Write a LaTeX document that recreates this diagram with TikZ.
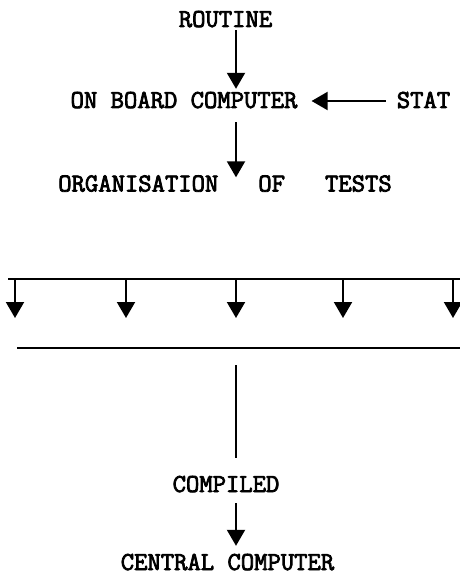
\documentclass[tikz,border=0pt]{standalone}
\usepackage{fontspec}
\newfontfamily\boldtt{Latin Modern Mono}[FakeBold=3]
\usetikzlibrary{arrows.meta}
\begin{document}
\begin{tikzpicture}[x=1pt,y=-1pt,
  lbl/.style={font=\boldtt\fontsize{25.9}{26}\selectfont, inner sep=0pt, text height=14pt, text depth=0pt, anchor=center},
  arr/.style={line width=2pt, -{Triangle[width=18pt,length=16pt]}},
  ln/.style={line width=2pt}]
\useasboundingbox (0,0) rectangle (460,575);
\node[lbl] (routine) at (225.5,20) {ROUTINE};
\node[lbl] (obc) at (184,101) {ON BOARD COMPUTER};
\node[lbl] (stat) at (423.5,101) {STAT};
\node[lbl] (org) at (225,184.5) {ORGANISATION~~~OF~~~TESTS};
\node[lbl] (compiled) at (226,485) {COMPILED};
\node[lbl] (central) at (227.5,563) {CENTRAL COMPUTER};
\coordinate (col) at (236,0);
% top arrows
\draw[arr, shorten <=3pt, shorten >=5pt] (routine.south -| col) -- (obc.north -| col);
\draw[arr, shorten <=14pt] (obc.south -| col) -- (org.north -| col);
\draw[arr, shorten <=11pt, shorten >=14pt] (stat.west) -- (obc.east);
% bus lines
\coordinate (b1L) at (8,279);
\coordinate (b1R) at (460,279);
\coordinate (b2L) at (17,348);
\coordinate (b2R) at (460,348);
\draw[ln] (b1L) -- (b1R);
\draw[ln] (b2L) -- (b2R);
\foreach \x/\n in {15/a,126/b,236/c,343/d,453/e}{
  \coordinate (t\n) at (\x,279);
  \coordinate (h\n) at (\x,318);
  \draw[arr] (t\n) -- (h\n);
}
\coordinate (v1) at (236,365);
\draw[ln, shorten >=20pt] (v1) -- (compiled.north -| col);
\draw[arr, shorten <=11pt, shorten >=10pt] (compiled.south -| col) -- (central.north -| col);
\end{tikzpicture}
\end{document}
